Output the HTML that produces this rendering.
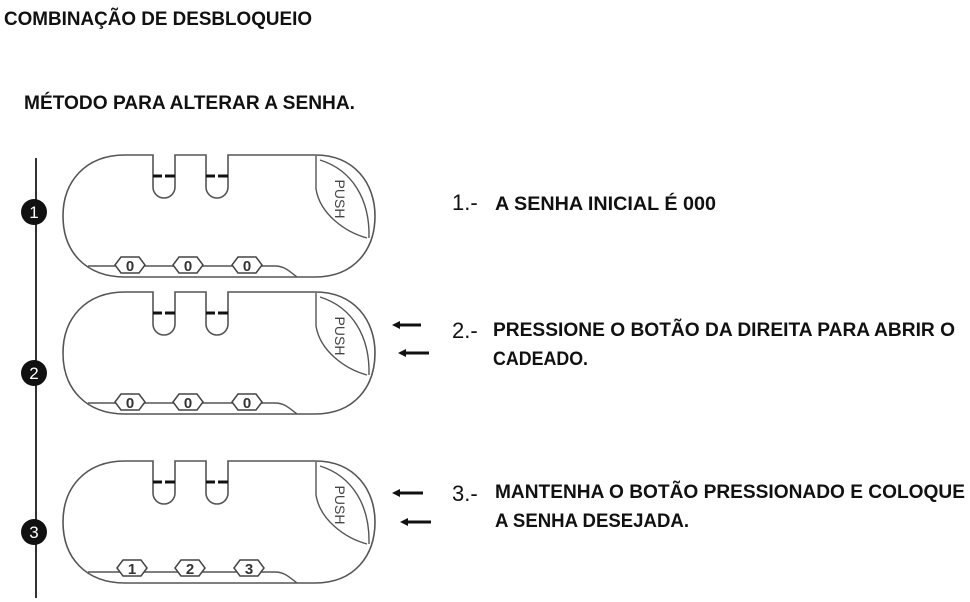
<!DOCTYPE html>
<html><head><meta charset="utf-8"><style>
html,body{margin:0;padding:0;background:#fff;}
svg{display:block;}
text{font-family:"Liberation Sans",sans-serif;}
</style></head><body>
<svg width="970" height="602" viewBox="0 0 970 602" xmlns="http://www.w3.org/2000/svg">
<defs>
<g id="lock">
  <path d="M153 1 H125 C85 1 63 28 63 62 C63 98 86 123 125 123 H315 C355 123 375 95 375 62 C375 30 355 1 315 1 H228 V33 A11 11 0 0 1 206 33 V1 H175 V33 A11 11 0 0 1 153 33 Z" fill="none" stroke="#555" stroke-width="1.6"/>
  <path d="M316 2 V35 C320 60 345 78 367 84" fill="none" stroke="#555" stroke-width="1.4"/>
  <path d="M320 6 C352 16 370 45 369 84" fill="none" stroke="#555" stroke-width="1.4"/>
  <g stroke="#111" stroke-width="3">
    <line x1="153" y1="22" x2="162" y2="22"/><line x1="165" y1="22" x2="175" y2="22"/>
    <line x1="206" y1="22" x2="215" y2="22"/><line x1="218" y1="22" x2="228" y2="22"/>
  </g>
  <text x="0" y="0" transform="translate(335,45) rotate(90)" font-size="14" fill="#444" text-anchor="middle">PUSH</text>
  <path d="M88 112 H275 C285 112 290 118 297 123" fill="none" stroke="#555" stroke-width="1.4"/>
</g>
<g id="hex">
  <path d="M-15 0 L-9 -8 H9 L15 0 L9 8 H-9 Z" fill="#fff" stroke="#444" stroke-width="1.5"/>
</g>
</defs>

<text x="4" y="25" font-size="19" font-weight="bold" fill="#111" textLength="308" lengthAdjust="spacingAndGlyphs">COMBINAÇÃO DE DESBLOQUEIO</text>
<text x="24" y="109" font-size="19" font-weight="bold" fill="#111" textLength="331" lengthAdjust="spacingAndGlyphs">MÉTODO PARA ALTERAR A SENHA.</text>

<line x1="36" y1="158" x2="36" y2="598" stroke="#333" stroke-width="2"/>

<g transform="translate(0,154)"><use href="#lock"/>
  <use href="#hex" x="130" y="111"/><use href="#hex" x="188" y="111"/><use href="#hex" x="247" y="111"/>
  <g font-size="15" font-weight="bold" fill="#333" text-anchor="middle"><text x="130" y="117">0</text><text x="188" y="117">0</text><text x="247" y="117">0</text></g>
</g>
<g transform="translate(0,291)"><use href="#lock"/>
  <use href="#hex" x="130" y="111"/><use href="#hex" x="188" y="111"/><use href="#hex" x="247" y="111"/>
  <g font-size="15" font-weight="bold" fill="#333" text-anchor="middle"><text x="130" y="117">0</text><text x="188" y="117">0</text><text x="247" y="117">0</text></g>
</g>
<g transform="translate(0,460)"><use href="#lock"/>
  <use href="#hex" x="132" y="108"/><use href="#hex" x="190" y="108"/><use href="#hex" x="249" y="108"/>
  <g font-size="15" font-weight="bold" fill="#333" text-anchor="middle"><text x="132" y="114">1</text><text x="190" y="114">2</text><text x="249" y="114">3</text></g>
</g>

<g fill="#111">
  <circle cx="34" cy="212" r="13"/><circle cx="34" cy="373" r="13"/><circle cx="34" cy="532" r="13"/>
</g>
<g fill="#fff" font-size="17" text-anchor="middle">
  <text x="34" y="218">1</text><text x="34" y="379">2</text><text x="34" y="538">3</text>
</g>

<g stroke="#111" stroke-width="3">
  <line x1="396" y1="325" x2="421" y2="325"/><line x1="402" y1="353" x2="429" y2="353"/>
  <line x1="396" y1="493" x2="423" y2="493"/><line x1="404" y1="522" x2="431" y2="522"/>
</g>
<g fill="#111">
  <path d="M392 325 L400 321 L400 329 Z"/><path d="M398 353 L406 349 L406 357 Z"/>
  <path d="M392 493 L400 489 L400 497 Z"/><path d="M400 522 L408 518 L408 526 Z"/>
</g>

<g fill="#111">
  <text x="452" y="210" font-size="22">1.-</text>
  <text x="495" y="210" font-size="19" font-weight="bold" textLength="221" lengthAdjust="spacingAndGlyphs">A SENHA INICIAL É 000</text>
  <text x="452" y="338" font-size="22">2.-</text>
  <text x="493" y="336" font-size="19" font-weight="bold" textLength="462" lengthAdjust="spacingAndGlyphs">PRESSIONE O BOTÃO DA DIREITA PARA ABRIR O</text>
  <text x="493" y="365" font-size="19" font-weight="bold" textLength="95" lengthAdjust="spacingAndGlyphs">CADEADO.</text>
  <text x="452" y="501" font-size="22">3.-</text>
  <text x="495" y="498" font-size="19" font-weight="bold" textLength="470" lengthAdjust="spacingAndGlyphs">MANTENHA O BOTÃO PRESSIONADO E COLOQUE</text>
  <text x="495" y="527" font-size="19" font-weight="bold" textLength="194" lengthAdjust="spacingAndGlyphs">A SENHA DESEJADA.</text>
</g>
</svg>
</body></html>
